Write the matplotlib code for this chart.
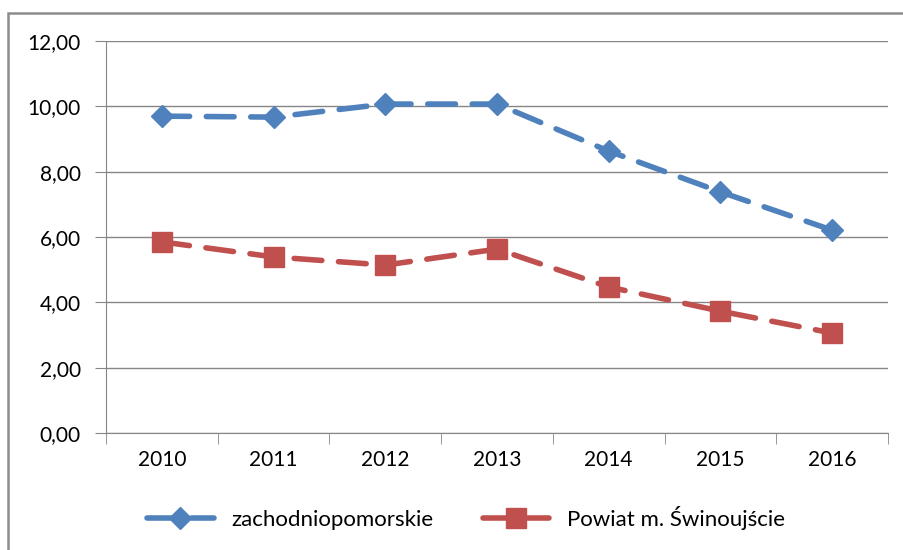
import numpy as np
import matplotlib.pyplot as plt
from matplotlib.patches import Rectangle

years = ["2010", "2011", "2012", "2013", "2014", "2015", "2016"]
zachodniopomorskie = [9.70, 9.67, 10.07, 10.07, 8.63, 7.38, 6.21]
swinoujscie = [5.85, 5.39, 5.14, 5.63, 4.47, 3.73, 3.06]
yticks = [0, 2, 4, 6, 8, 10, 12]

plt.rcParams['font.family'] = ['Lato', 'DejaVu Sans']

W, H = 904, 550
fig = plt.figure(figsize=(W / 100, H / 100), dpi=100)

# outer chart border, partly cut off by the image edge
fig.patches.append(Rectangle((8 / W, 0 - 0.05), 1.1, 1 - 13 / H + 0.05,
                             transform=fig.transFigure, fill=False,
                             edgecolor='#8c8c8c', lw=1.8))

ax = fig.add_axes([106 / W, 1 - 433 / H, (888 - 106) / W, (433 - 41) / H])

x = np.arange(len(years))
ax.plot(x, zachodniopomorskie, color='#4F81BD', lw=4, ls=(0, (5, 3)),
        marker='D', ms=11, label='zachodniopomorskie', dash_capstyle='round')
ax.plot(x, swinoujscie, color='#C0504D', lw=4, ls=(0, (5, 3)),
        marker='s', ms=14, label='Powiat m. Świnoujście', dash_capstyle='round')

ax.set_xlim(-0.5, len(years) - 0.5)
ax.set_ylim(0, 12)
ax.set_yticks(yticks)
ax.set_yticklabels([f"{v:.2f}".replace('.', ',') for v in yticks], fontsize=15)
ax.set_xticks(x)
ax.set_xticklabels(years, fontsize=15)
ax.set_xticks(np.arange(len(years) + 1) - 0.5, minor=True)
ax.tick_params(axis='x', which='major', length=0, pad=12)
ax.tick_params(axis='x', which='minor', length=8, color='#868686')
ax.tick_params(axis='y', length=8, color='#868686', pad=10)
ax.grid(axis='y', color='#868686', lw=1)
ax.set_axisbelow(True)
for s in ['top', 'right']:
    ax.spines[s].set_visible(False)
for s in ['left', 'bottom']:
    ax.spines[s].set_color('#868686')

fig.legend(loc='center', bbox_to_anchor=(466 / W, 1 - 518 / H), ncol=2,
           frameon=False, fontsize=16, handlelength=3.0, columnspacing=2.2)

fig.savefig('out.png', dpi=100)
